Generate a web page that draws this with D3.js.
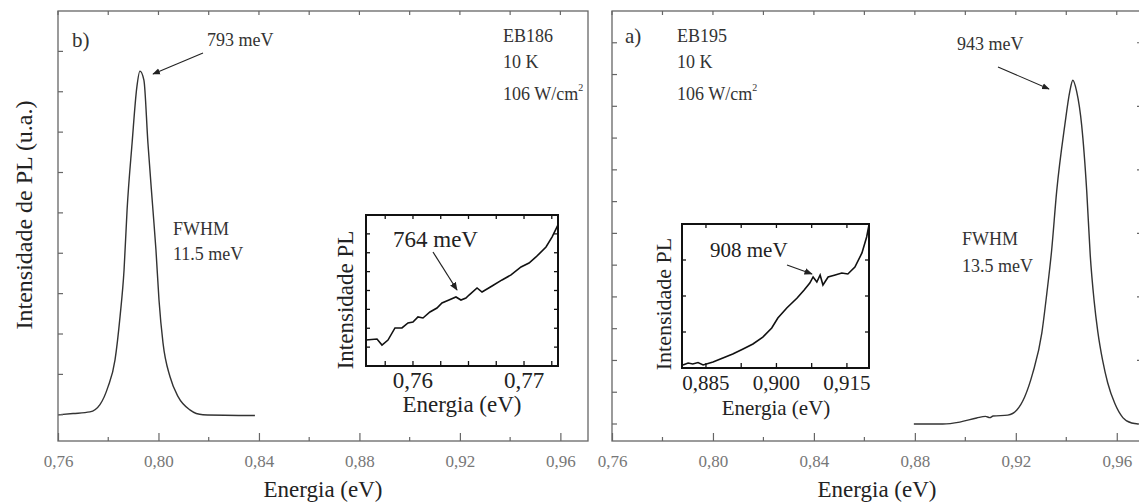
<!DOCTYPE html>
<html>
<head>
<meta charset="utf-8">
<script src="https://cdn.jsdelivr.net/npm/d3@7"></script>
<style>
  body { margin: 0; background: #fff; }
  svg { display: block; font-family: "Liberation Serif", "DejaVu Serif", serif; }
</style>
</head>
<body>
<svg id="chart" width="1139" height="503"></svg>
<script>
// ---- data: panel b) EB186 (energy eV, intensity a.u.)
var specB_E = [0.7600, 0.7660, 0.7727, 0.7767, 0.7799, 0.7827, 0.7847, 0.7863, 0.7875, 0.7895, 0.7914, 0.7926,
  0.7942, 0.7958, 0.7978, 0.7990, 0.8002, 0.8018, 0.8046, 0.8078, 0.8125, 0.8177, 0.8384];
var specB_I = [0.00, 0.03, 0.07, 0.25, 0.69, 1.36, 2.43, 3.59, 5.07, 6.73, 8.12, 8.51,
  8.29, 6.73, 5.07, 4.08, 2.85, 1.78, 0.94, 0.45, 0.12, 0.00, -0.02];

// ---- data: panel a) EB195
var specA_E = [0.8796, 0.8911, 0.8978, 0.9045, 0.9080, 0.9097, 0.9110, 0.9168, 0.9204, 0.9235, 0.9267, 0.9303,
  0.9323, 0.9342, 0.9362, 0.9394, 0.9414, 0.9426, 0.9441, 0.9461, 0.9481, 0.9495, 0.9510, 0.9525,
  0.9544, 0.9564, 0.9592, 0.9624, 0.9659, 0.9687];
var specA_I = [0.00, 0.00, 0.06, 0.19, 0.24, 0.20, 0.25, 0.28, 0.44, 0.85, 1.60, 2.86,
  4.12, 5.47, 7.33, 9.40, 10.47, 10.82, 10.47, 9.40, 7.33, 5.30, 3.90, 2.90,
  2.00, 1.30, 0.65, 0.20, 0.03, 0.00];

// ---- inset b) 764 meV
var insB_E = [0.75577, 0.75676, 0.75721, 0.75775, 0.75838, 0.75901, 0.75955, 0.76000, 0.76045, 0.76090,
  0.76153, 0.76216, 0.76261, 0.76324, 0.76387, 0.76432, 0.76477, 0.76505, 0.76577, 0.76622, 0.76712,
  0.76802, 0.76883, 0.76973, 0.77045, 0.77108, 0.77198, 0.77252, 0.77306];
var insB_I = [0.172, 0.179, 0.139, 0.172, 0.252, 0.252, 0.285, 0.291, 0.325, 0.318,
  0.358, 0.384, 0.417, 0.437, 0.457, 0.437, 0.450, 0.470, 0.517, 0.490, 0.530,
  0.570, 0.603, 0.656, 0.682, 0.722, 0.788, 0.854, 0.934];

// ---- inset a) 908 meV
var insA_E = [0.8801, 0.8812, 0.8822, 0.8833, 0.8844, 0.8865, 0.8886, 0.8907, 0.8929, 0.8950, 0.8971,
  0.8990, 0.9003, 0.9022, 0.9044, 0.9059, 0.9071, 0.9078, 0.9086, 0.9093, 0.9099, 0.9110,
  0.9125, 0.9139, 0.9152, 0.9167, 0.9182, 0.9192, 0.9197];
var insA_I = [0.021, 0.035, 0.028, 0.038, 0.021, 0.042, 0.069, 0.097, 0.132, 0.167, 0.215,
  0.278, 0.347, 0.417, 0.486, 0.542, 0.590, 0.632, 0.597, 0.646, 0.576, 0.632,
  0.646, 0.660, 0.653, 0.701, 0.799, 0.910, 0.993];

var mainTicks = [0.76, 0.80, 0.84, 0.88, 0.92, 0.96];
var mainMinor = [0.78, 0.82, 0.86, 0.90, 0.94];
var insBTicks = [0.76, 0.77];
var insATicks = [0.885, 0.900, 0.915];

var svg = d3.select('#chart');
var comma = function (d, n) { return d.toFixed(n).replace('.', ','); };

function zip(E, I) { return E.map(function (e, i) { return [e, I[i]]; }); }

svg.append('defs').append('marker')
  .attr('id', 'arr').attr('viewBox', '0 0 10 10').attr('refX', 9).attr('refY', 5)
  .attr('markerWidth', 7).attr('markerHeight', 7).attr('orient', 'auto')
  .append('path').attr('d', 'M0,1 L10,5 L0,9 z').attr('fill', '#222');

function arrow(x1, y1, x2, y2, w) {
  svg.append('line').attr('x1', x1).attr('y1', y1).attr('x2', x2).attr('y2', y2)
    .attr('stroke', '#222').attr('stroke-width', w || 1.2).attr('marker-end', 'url(#arr)');
}

function txt(x, y, s, size, fill, anchor) {
  return svg.append('text').attr('x', x).attr('y', y).attr('font-size', size)
    .attr('fill', fill || '#333').attr('text-anchor', anchor || 'start').text(s);
}

// main panel
function mainPanel(x0, x1, xmax, ymin, ymax, yTicks, rightTicks, data) {
  var x = d3.scaleLinear().domain([0.76, xmax]).range([x0, x1]);
  var y = d3.scaleLinear().domain([ymin, ymax]).range([441, 11]);
  var g = svg.append('g');
  var frameCol = '#666';

  g.append('path')
    .datum(data)
    .attr('fill', 'none').attr('stroke', '#333').attr('stroke-width', 1.4)
    .attr('d', d3.line().curve(d3.curveMonotoneX).x(function (d) { return x(d[0]); }).y(function (d) { return y(d[1]); }));

  g.append('rect').attr('x', x0).attr('y', 11).attr('width', x1 - x0).attr('height', 430)
    .attr('fill', 'none').attr('stroke', frameCol).attr('stroke-width', 1.3);

  // bottom axis
  var bx = g.append('g').attr('transform', 'translate(0,441)')
    .call(d3.axisBottom(x).tickValues(mainTicks).tickSizeInner(-8).tickSizeOuter(0).tickPadding(14)
      .tickFormat(function (d) { return comma(d, 2); }));
  bx.select('.domain').remove();
  bx.selectAll('line').attr('stroke', frameCol).attr('stroke-width', 1.2);
  bx.selectAll('text').attr('font-size', 17).attr('fill', '#777')
    .attr('font-family', '"Liberation Serif", serif');
  g.selectAll('.mn').data(mainMinor).enter().append('line')
    .attr('x1', x).attr('x2', x).attr('y1', 441).attr('y2', 437)
    .attr('stroke', frameCol).attr('stroke-width', 1.2);

  // top ticks
  g.selectAll('.tt').data(mainTicks.concat(mainMinor)).enter().append('line')
    .attr('x1', x).attr('x2', x).attr('y1', 11).attr('y2', 15)
    .attr('stroke', frameCol).attr('stroke-width', 1.2);

  // left ticks
  g.selectAll('.lt').data(yTicks).enter().append('line')
    .attr('x1', x0).attr('x2', x0 + 5).attr('y1', y).attr('y2', y)
    .attr('stroke', frameCol).attr('stroke-width', 1.2);
  g.selectAll('.rt').data(rightTicks).enter().append('line')
    .attr('x1', x1 - 5).attr('x2', x1).attr('y1', y).attr('y2', y)
    .attr('stroke', frameCol).attr('stroke-width', 1.2);

  txt((x0 + x1) / 2, 497, 'Energia (eV)', 23, '#222', 'middle');
  return { x: x, y: y };
}

// inset
function inset(bx0, bx1, by0, by1, dom, xt, minorStep, nY, data, fs, dec) {
  var x = d3.scaleLinear().domain(dom).range([bx0, bx1]);
  var y = d3.scaleLinear().domain([0, 1]).range([by1, by0]);
  var g = svg.append('g');
  g.append('rect').attr('x', bx0).attr('y', by0).attr('width', bx1 - bx0).attr('height', by1 - by0)
    .attr('fill', '#fff').attr('stroke', '#111').attr('stroke-width', 2);
  g.append('path').datum(data)
    .attr('fill', 'none').attr('stroke', '#111').attr('stroke-width', 1.6)
    .attr('d', d3.line().x(function (d) { return x(d[0]); }).y(function (d) { return y(d[1]); }));

  var xs = [];
  for (var v = xt[0] - 4 * minorStep; v <= dom[1] + 1e-9; v += minorStep) if (v >= dom[0]) xs.push(v);
  g.selectAll('.it').data(xs).enter().append('line')
    .attr('x1', x).attr('x2', x).attr('y1', by1).attr('y2', by1 - 5).attr('stroke', '#111').attr('stroke-width', 1.3);
  g.selectAll('.itt').data(xs).enter().append('line')
    .attr('x1', x).attr('x2', x).attr('y1', by0).attr('y2', by0 + 4).attr('stroke', '#111').attr('stroke-width', 1.3);
  var ys = d3.range(1, nY).map(function (k) { return k / nY; });
  g.selectAll('.iy').data(ys).enter().append('line')
    .attr('x1', bx0).attr('x2', bx0 + 4).attr('y1', y).attr('y2', y).attr('stroke', '#111').attr('stroke-width', 1.3);
  g.selectAll('.iyr').data(ys).enter().append('line')
    .attr('x1', bx1 - 4).attr('x2', bx1).attr('y1', y).attr('y2', y).attr('stroke', '#111').attr('stroke-width', 1.3);

  g.selectAll('.il').data(xt).enter().append('text')
    .attr('x', x).attr('y', by1 + 22).attr('text-anchor', 'middle').attr('font-size', fs).attr('fill', '#222')
    .text(function (d) { return comma(d, dec); });
  return { x: x, y: y };
}

// ---- panel b)
var pb = mainPanel(58, 588, 0.971, -0.65, 10, d3.range(0, 10), [], zip(specB_E, specB_I));
txt(32, 215, 'Intensidade de PL (u.a.)', 24, '#222', 'middle')
  .attr('transform', 'rotate(-90,32,215)').attr('y', 215);
txt(72, 47, 'b)', 21, '#333');
txt(207, 46, '793 meV', 18, '#333');
arrow(203, 53, 153, 74, 1.1);
txt(503, 42, 'EB186', 18, '#333');
txt(503, 68, '10 K', 18, '#333');
var wb = txt(503, 100, '106 W/cm', 18, '#333');
wb.append('tspan').attr('font-size', 10).attr('dy', -9).text('2');
txt(173, 235, 'FWHM', 18, '#333');
txt(173, 260, '11.5 meV', 18, '#333');

var ib = inset(366, 558, 215, 366, [0.75577, 0.77306], insBTicks, 0.0025, 8, zip(insB_E, insB_I), 23, 2);
txt(353, 300, 'Intensidade PL', 23, '#222', 'middle').attr('transform', 'rotate(-90,353,300)');
txt(462, 412, 'Energia (eV)', 23, '#222', 'middle');
txt(393, 247, '764 meV', 23, '#222');
arrow(433, 252, 457, 290, 1.2);

// ---- panel a)
var pa = mainPanel(612, 1142, 0.97, -0.535, 13, d3.range(0, 13), d3.range(0, 13, 2), zip(specA_E, specA_I));
txt(625, 43, 'a)', 21, '#333');
txt(677, 42, 'EB195', 18, '#333');
txt(677, 68, '10 K', 18, '#333');
var wa = txt(677, 100, '106 W/cm', 18, '#333');
wa.append('tspan').attr('font-size', 10).attr('dy', -9).text('2');
txt(957, 50, '943 meV', 18, '#333');
arrow(998, 67, 1049, 89, 1.1);
txt(962, 245, 'FWHM', 18, '#333');
txt(962, 272, '13.5 meV', 18, '#333');

var ia = inset(682, 869, 224, 368, [0.8799, 0.9197], insATicks, 0.0075, 4, zip(insA_E, insA_I), 21, 3);
txt(671, 304, 'Intensidade PL', 22, '#222', 'middle').attr('transform', 'rotate(-90,671,304)');
txt(776, 415, 'Energia (eV)', 21, '#222', 'middle');
txt(710, 257, '908 meV', 21, '#222');
arrow(787, 265, 812, 274, 1.2);
</script>
</body>
</html>
